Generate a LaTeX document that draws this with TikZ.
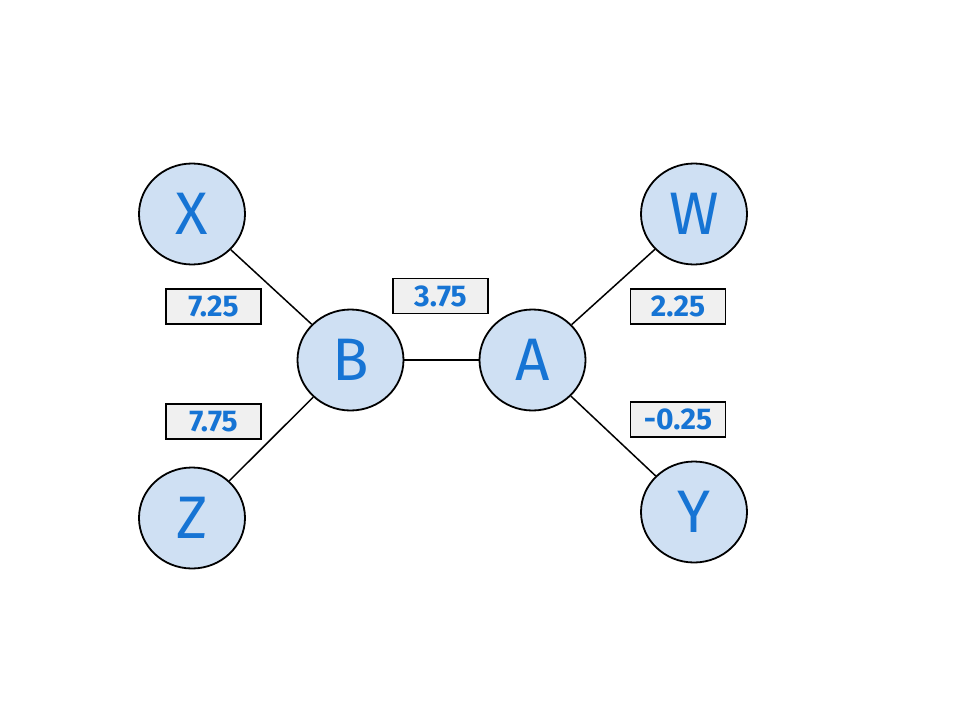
\documentclass[tikz,border=0pt]{standalone}
\usepackage{fontspec}
\setmainfont{Fira Sans}
\usetikzlibrary{shapes.geometric}
\definecolor{inkblue}{HTML}{1674D4}
\definecolor{nodefill}{HTML}{CFE0F3}
\definecolor{boxfill}{HTML}{F0F0F0}
\tikzset{
  vertex/.style={ellipse, draw=black, line width=1.8pt, fill=nodefill,
    minimum width=106pt, minimum height=101pt, inner sep=0pt,
    text=inkblue, font=\fontsize{60}{62}\selectfont},
  weight/.style={rectangle, draw=black, line width=1.8pt, fill=boxfill,
    minimum width=95pt, minimum height=35pt, inner sep=0pt,
    text=inkblue, font=\bfseries\fontsize{30}{32}\selectfont},
  edge/.style={draw=black, line width=1.5pt}
}
\begin{document}
\begin{tikzpicture}[x=1pt, y=-1pt]
  \useasboundingbox (0,0) rectangle (960,720);
  % vertices
  \node[vertex] (X) at (192,214) {X};
  \node[vertex] (B) at (350.5,360) {B};
  \node[vertex] (A) at (532.5,360) {A};
  \node[vertex] (W) at (694,214) {W};
  \node[vertex] (Y) at (694,512) {Y};
  \node[vertex] (Z) at (192,518) {Z};
  % edges between vertex borders
  \draw[edge] (X) -- (B);
  \draw[edge] (Z) -- (B);
  \draw[edge] (B) -- (A);
  \draw[edge] (A) -- (W);
  \draw[edge] (A) -- (Y);
  % edge weights
  \node[weight] (wXB) at (213.5,306.5) {7.25};
  \node[weight] (wZB) at (213.5,421.5) {7.75};
  \node[weight] (wBA) at (440.5,296) {3.75};
  \node[weight] (wAW) at (678,306.5) {2.25};
  \node[weight] (wAY) at (678,419.5) {-0.25};
\end{tikzpicture}
\end{document}
